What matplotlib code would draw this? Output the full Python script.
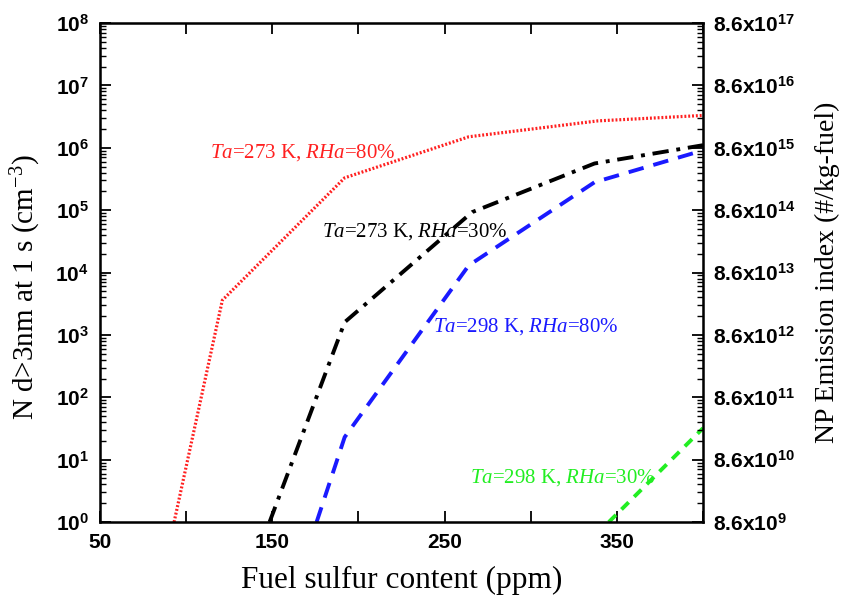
import numpy as np
import matplotlib.pyplot as plt
from matplotlib.ticker import FixedLocator, LogLocator, NullFormatter, FuncFormatter

plt.rcParams['mathtext.fontset'] = 'custom'
plt.rcParams['mathtext.rm'] = 'Liberation Serif'
plt.rcParams['mathtext.it'] = 'Liberation Serif:italic'

# datos (ppm, cm^-3)
x_red = [93, 121, 192, 264, 339, 400]
y_red = [1.0, 3.6e3, 3.3e5, 1.5e6, 2.7e6, 3.3e6]

x_black = [148.4, 192, 266, 337, 400]
y_black = [1.0, 1.6e3, 9.3e4, 5.6e5, 1.1e6]

x_blue = [175.7, 192, 264, 337, 400]
y_blue = [1.0, 23, 1.3e4, 2.8e5, 9.1e5]

x_green = [345.3, 400]
y_green = [1.0, 32]

xticks = [50, 100, 150, 200, 250, 300, 350, 400]
xlabels = ['50', '', '150', '', '250', '', '350', '']
factor = 8.6e9  # relacion eje derecho / eje izquierdo

fig = plt.figure(figsize=(8.44, 5.98), dpi=100)
ax = fig.add_axes([0.1185, 0.127, 0.7145, 0.8345])

ax.plot(x_red, y_red, color='#ff2020', ls=(0, (0.6, 0.6)), lw=2.3)
ax.plot(x_black, y_black, color='black', ls=(0, (4.2, 2, 1, 2)), lw=2.8)
ax.plot(x_blue, y_blue, color='#1a1aff', ls=(0, (4, 2.6)), lw=2.8)
ax.plot(x_green, y_green, color='#22ee22', ls=(0, (2.6, 2)), lw=2.8)

ax.set_yscale('log')
ax.set_xlim(50, 400)
ax.set_ylim(1, 1e8)
ax.set_xticks(xticks)
ax.set_xticklabels(xlabels)
ax.yaxis.set_major_locator(LogLocator(base=10, numticks=20))
ax.yaxis.set_minor_locator(LogLocator(base=10, subs=np.arange(2, 10), numticks=20))
ax.yaxis.set_minor_formatter(NullFormatter())
ax.tick_params(which='major', direction='in', length=8, width=1.3, top=True,
               labelsize=15)
ax.tick_params(axis='x', pad=8)
ax.tick_params(axis='y', pad=8)
ax.tick_params(which='minor', direction='in', length=4, width=1)
for lab in ax.get_xticklabels() + ax.get_yticklabels():
    lab.set_fontweight('bold')
    lab.set_family('Liberation Sans')
for s in ax.spines.values():
    s.set_linewidth(1.8)

ax.set_xlabel('Fuel sulfur content (ppm)', family='Liberation Serif', fontsize=22.5, labelpad=10)
ax.set_ylabel(r'N d>3nm at 1 s (cm$^{\mathregular{-3}}$)',
              family='Liberation Serif', fontsize=21)
ax.yaxis.set_label_coords(-0.095, 0.47)

ax2 = ax.twinx()
ax2.set_yscale('log')
ax2.set_ylim(1 * factor, 1e8 * factor)
ax2.yaxis.set_major_locator(FixedLocator([factor * 10.0**k for k in range(9)]))
ax2.yaxis.set_minor_locator(FixedLocator([factor * m * 10.0**k for k in range(8) for m in range(2, 10)]))
ax2.yaxis.set_major_formatter(FuncFormatter(
    lambda v, p: r'8.6x10$^{\mathregular{%d}}$' % round(np.log10(v / 8.6))))
ax2.yaxis.set_minor_formatter(NullFormatter())
ax2.tick_params(which='major', direction='in', length=8, width=1.3, labelsize=15, pad=7)
ax2.tick_params(which='minor', direction='in', length=4, width=1)
for lab in ax2.get_yticklabels():
    lab.set_fontweight('bold')
    lab.set_family('Liberation Sans')
ax2.set_ylabel('NP Emission index (#/kg-fuel)', family='Liberation Serif', fontsize=20, labelpad=14)

txt = dict(family='Liberation Serif', fontsize=15, va='center')
ax.text(113.7, 10**5.93, r'$Ta$=273 K, $RHa$=80%', color='#ff2020', **txt)
ax.text(179, 10**4.65, r'$Ta$=273 K, $RHa$=30%', color='black', **txt)
ax.text(243, 10**3.14, r'$Ta$=298 K, $RHa$=80%', color='#1a1aff', **txt)
ax.text(265, 10**0.72, r'$Ta$=298 K, $RHa$=30%', color='#22ee22', **txt)

plt.savefig('out.png', dpi=100)
